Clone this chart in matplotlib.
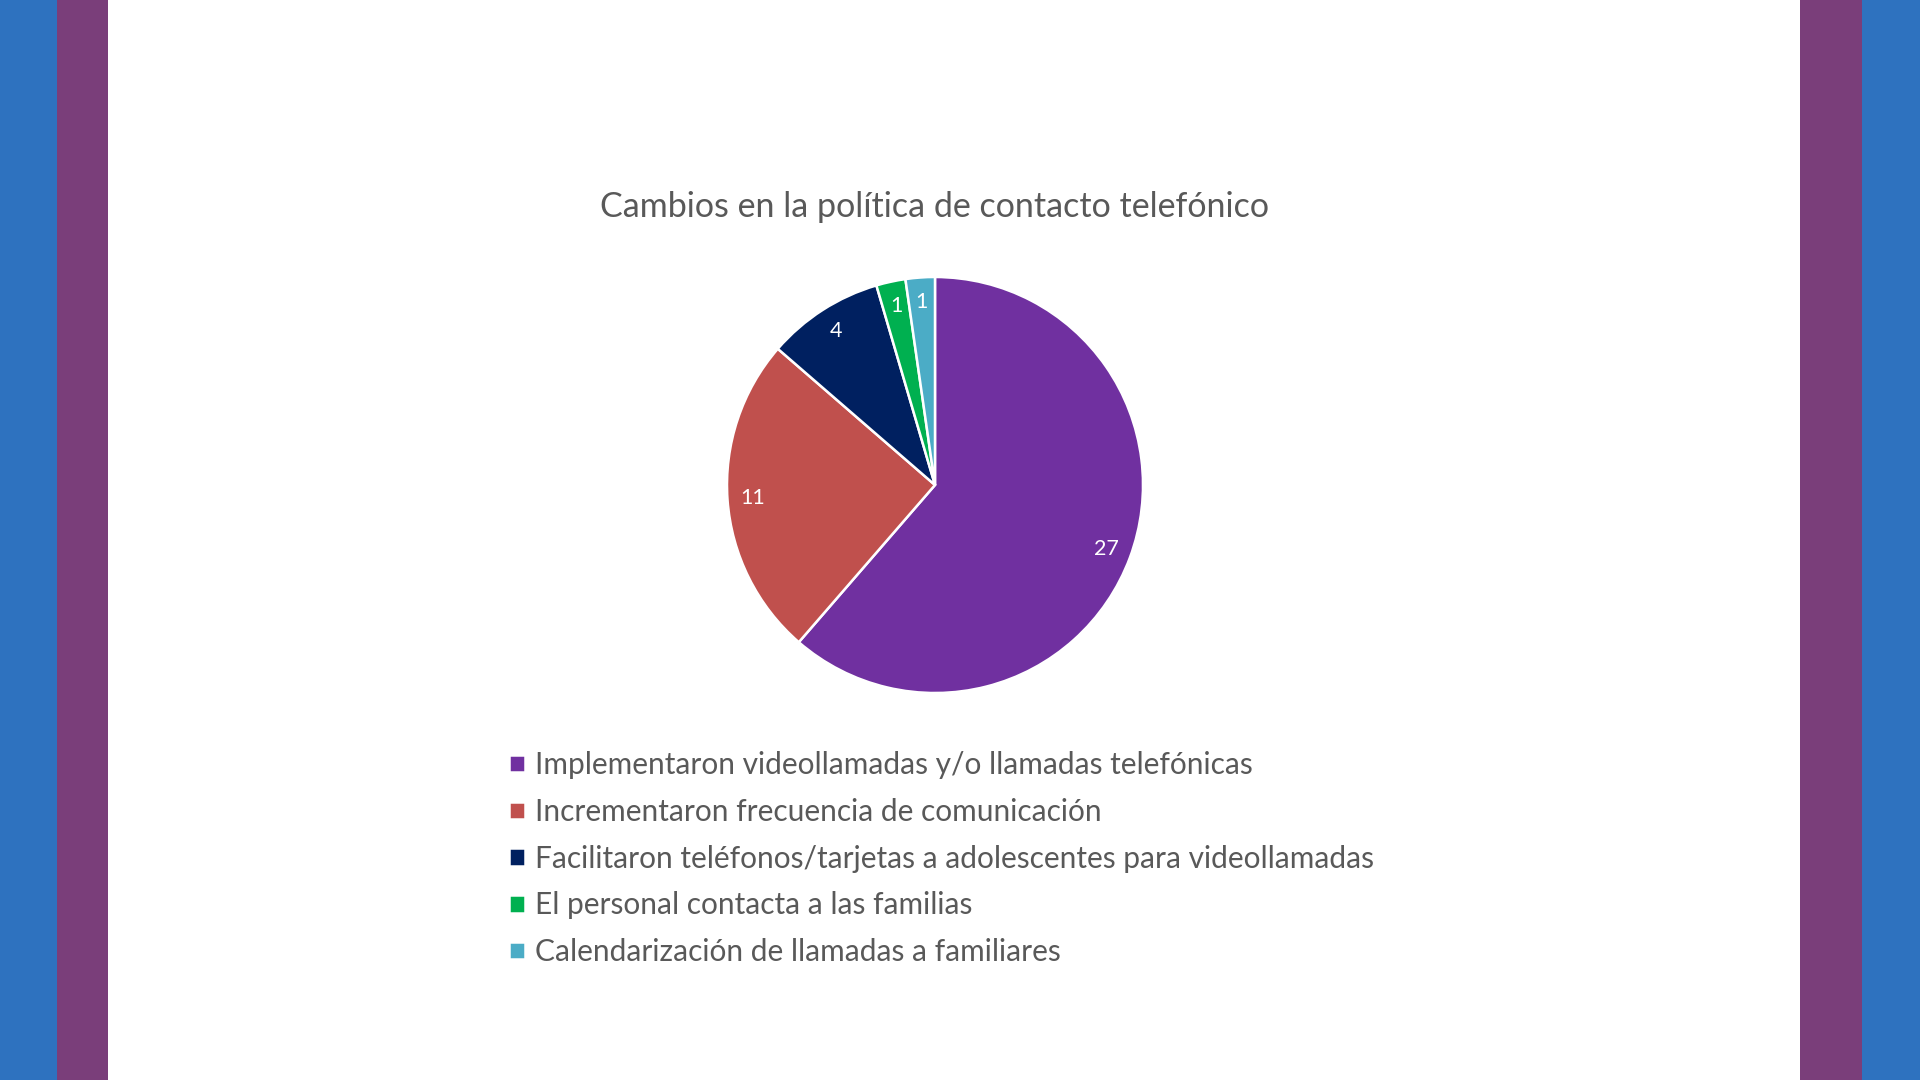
import matplotlib.pyplot as plt
from matplotlib.patches import Rectangle

plt.rcParams['font.family'] = ['Lato', 'DejaVu Sans']

title = "Cambios en la política de contacto telefónico"
categories = [
    "Implementaron videollamadas y/o llamadas telefónicas",
    "Incrementaron frecuencia de comunicación",
    "Facilitaron teléfonos/tarjetas a adolescentes para videollamadas",
    "El personal contacta a las familias",
    "Calendarización de llamadas a familiares",
]
values = [27, 11, 4, 1, 1]
colors = ["#7030A0", "#C0504D", "#002060", "#00B050", "#4BACC6"]

W, H = 1920, 1080
fig = plt.figure(figsize=(19.2, 10.8), dpi=100)
fig.patch.set_facecolor("white")

# side bands
for x0, w, c in [(0, 57, "#2E72BF"), (57, 51, "#7A3E7A"),
                 (1800, 62, "#7A3E7A"), (1862, 58, "#2E72BF")]:
    fig.patches.append(Rectangle((x0 / W, 0), w / W, 1, transform=fig.transFigure,
                                 facecolor=c, edgecolor="none", zorder=0))

# pie
cx, cy, r = 935, 485, 208
ax = fig.add_axes([(cx - r) / W, (H - cy - r) / H, 2 * r / W, 2 * r / H])
wedges, texts = ax.pie(values, colors=colors, startangle=90, counterclock=False,
                       labels=[str(v) for v in values], labeldistance=0.88,
                       wedgeprops=dict(edgecolor="white", linewidth=1.8),
                       textprops=dict(color="white", fontsize=15.5))
for t in texts:
    t.set_horizontalalignment("center")
    t.set_verticalalignment("center")
ax.set_xlim(-1, 1)
ax.set_ylim(-1, 1)
ax.axis("off")

fig.text(cx / W, 1 - 207 / H, title, ha="center", va="center",
         fontsize=24.5, color="#595959")

leg = fig.legend(wedges, categories, loc="upper left",
                 bbox_to_anchor=(509 / W, 1 - 751 / H), frameon=False,
                 fontsize=21.5, labelcolor="#595959", handlelength=0.52,
                 handleheight=0.52, handletextpad=0.35, labelspacing=0.63,
                 borderpad=0, borderaxespad=0)

fig.savefig("out.png", dpi=100)
